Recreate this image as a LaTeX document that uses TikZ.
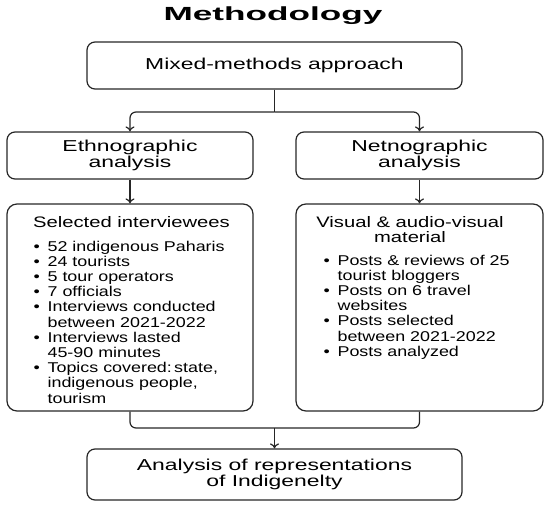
\documentclass[tikz,border=0pt]{standalone}
\usepackage{fontspec}
\setmainfont{Liberation Sans}
\newfontfamily\boxfont{Liberation Sans}[FakeStretch=1.45]
\newfontfamily\bodyfont{Liberation Sans}[FakeStretch=1.26]
\newfontfamily\headfont{Liberation Sans}[FakeStretch=1.33]
\newfontfamily\titlefont{Liberation Sans}[FakeStretch=1.85]
\usetikzlibrary{arrows.meta}
\newcommand{\bul}{\makebox[14pt][l]{•}}
\newcommand{\ind}{\hspace*{14pt}}
\begin{document}
\begin{tikzpicture}[x=1pt,y=-1pt,
  line width=1.2pt,
  box/.style={draw=black!85,rounded corners=8pt,inner sep=0pt,
    font=\boxfont\fontsize{15.8}{16}\selectfont,align=center},
  listbox/.style={draw=black!85,rounded corners=10pt,inner sep=0pt},
  heading/.style={inner sep=0pt,anchor=base,align=center,
    font=\headfont\fontsize{15.2}{15}\selectfont},
  listtext/.style={inner sep=0pt,anchor=base west,align=left,
    font=\bodyfont\fontsize{14.2}{15.2}\selectfont},
  conn/.style={draw=black!85,line width=1.2pt},
  arr/.style={conn,-{To[length=5pt,width=9pt]}}
]
\useasboundingbox (0,0) rectangle (550,508);

\node[inner sep=0pt,anchor=base,font=\titlefont\bfseries\fontsize{19}{19}\selectfont] (title) at (273,21) {Methodology};

\node[box,minimum width=375pt,minimum height=47pt] (top) at (274.5,65.5) {Mixed-methods approach};
\node[box,minimum width=246pt,minimum height=47pt] (eth) at (130,155.5) {Ethnographic\\analysis};
\node[box,minimum width=247pt,minimum height=47pt] (net) at (419.5,155.5) {Netnographic\\analysis};
\node[listbox,minimum width=246pt,minimum height=207pt] (selL) at (130,307.5) {};
\node[listbox,minimum width=247pt,minimum height=207pt] (selR) at (419.5,307.5) {};
\node[box,minimum width=375pt,minimum height=51pt] (bot) at (274.5,474.5) {Analysis of representations\\of Indigenelty};

\node[heading] (hL) at (131.5,228) {Selected interviewees};
\node[heading] (hR) at (410,243) {Visual \& audio-visual\\material};

\node[listtext] (lL) at (33,403) {\bul 52 indigenous Paharis\\
\bul 24 tourists\\
\bul 5 tour operators\\
\bul 7 officials\\
\bul Interviews conducted\\
\ind between 2021-2022\\
\bul Interviews lasted\\
\ind 45-90 minutes\\
\bul Topics covered:\,state,\\
\ind indigenous people,\\
\ind tourism};

\node[listtext] (lR) at (323,356.2) {\bul Posts \& reviews of 25\\
\ind tourist bloggers\\
\bul Posts on 6 travel\\
\ind websites\\
\bul Posts selected\\
\ind between 2021-2022\\
\bul Posts analyzed};

\coordinate (split) at (274.5,112);
\coordinate (merge) at (274.5,428);

\draw[conn] (top.south) -- (split);
\draw[arr,rounded corners=6pt] (split) -| (eth.north);
\draw[arr,rounded corners=6pt] (split) -| (net.north);
\draw[arr] (eth.south) -- (selL.north);
\draw[arr] (net.south) -- (selR.north);
\draw[conn,rounded corners=6pt] (selL.south) |- (merge) -| (selR.south);
\draw[arr] (merge) -- (bot.north);
\end{tikzpicture}
\end{document}
